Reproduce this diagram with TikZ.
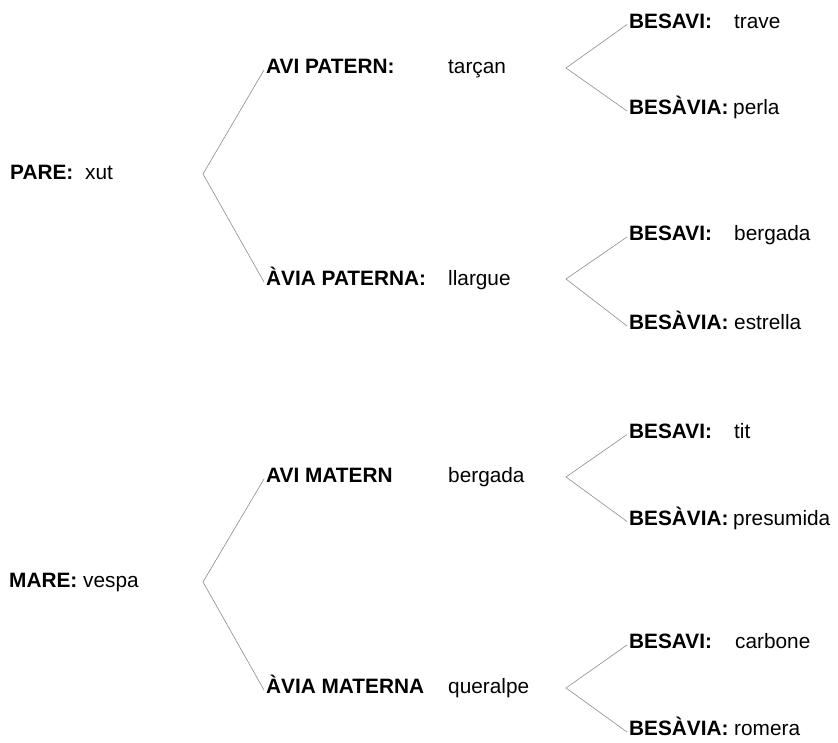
\documentclass[tikz,border=0pt]{standalone}
\usepackage{fontspec}
\setmainfont{Liberation Sans}
\usetikzlibrary{positioning}

\begin{document}
\begin{tikzpicture}[
    x=1pt, y=-1pt,
    lbl/.style={anchor=west, yshift=-2pt, inner xsep=2pt, inner ysep=0pt, text height=0.72em, text depth=0pt, font=\fontsize{20.8}{25}\selectfont\bfseries},
    val/.style={anchor=west, yshift=-2pt, inner sep=0pt, text height=0.72em, text depth=0pt, font=\fontsize{20.8}{25}\selectfont},
    branch/.style={draw=black!45, line width=0.6pt}
  ]
  \useasboundingbox (0,0) rectangle (838,743);

  % pares
  \node[lbl] (pare) at (8,174) {PARE:};
  \node[val] (pareval) at (85,174) {xut};
  \node[lbl] (mare) at (7,582) {MARE:};
  \node[val] (mareval) at (83,582) {vespa};

  % avis
  \node[lbl] (apat) at (264,68) {AVI PATERN:};
  \node[val] (apatval) at (448,68) {tarçan};
  \node[lbl] (avpat) at (264,280) {ÀVIA PATERNA:};
  \node[val] (avpatval) at (448,280) {llargue};
  \node[lbl] (amat) at (264,477) {AVI MATERN};
  \node[val] (amatval) at (448,477) {bergada};
  \node[lbl] (avmat) at (264,688) {ÀVIA MATERNA};
  \node[val] (avmatval) at (448,688) {queralpe};

  % besavis
  \node[lbl] (b1) at (627,22.5) {BESAVI:};
  \node[val] (b1val) at (734,22.5) {trave};
  \node[lbl] (b2) at (627,109) {BESÀVIA:};
  \node[val] (b2val) at (733,109) {perla};
  \node[lbl] (b3) at (627,235) {BESAVI:};
  \node[val] (b3val) at (734,235) {bergada};
  \node[lbl] (b4) at (627,324) {BESÀVIA:};
  \node[val] (b4val) at (734,324) {estrella};
  \node[lbl] (b5) at (627,432.5) {BESAVI:};
  \node[val] (b5val) at (734,432.5) {tit};
  \node[lbl] (b6) at (627,519.5) {BESÀVIA:};
  \node[val] (b6val) at (733,519.5) {presumida};
  \node[lbl] (b7) at (627,643) {BESAVI:};
  \node[val] (b7val) at (735,643) {carbone};
  \node[lbl] (b8) at (627,730) {BESÀVIA:};
  \node[val] (b8val) at (734,730) {romera};

  % claus
  \coordinate (vp) at (203,174);
  \coordinate (vm) at (203,582);
  \coordinate (v1) at (566,68);
  \coordinate (v2) at (566,279);
  \coordinate (v3) at (566,477);
  \coordinate (v4) at (566,688);

  \draw[branch] (apat.west) -- (vp) -- (avpat.west);
  \draw[branch] (amat.west) -- (vm) -- (avmat.west);
  \draw[branch] (b1.west) -- (v1) -- (b2.west);
  \draw[branch] (b3.west) -- (v2) -- (b4.west);
  \draw[branch] (b5.west) -- (v3) -- (b6.west);
  \draw[branch] (b7.west) -- (v4) -- (b8.west);
\end{tikzpicture}
\end{document}
